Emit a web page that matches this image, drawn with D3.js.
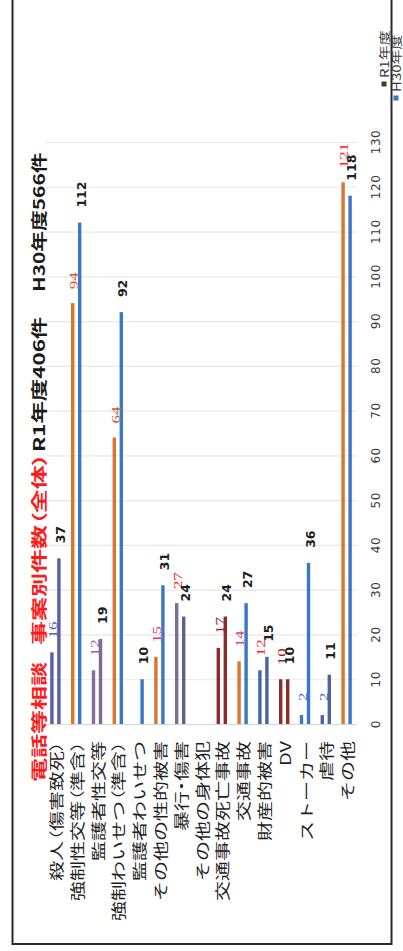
<!DOCTYPE html>
<html><head><meta charset="utf-8">
<script src="https://cdn.jsdelivr.net/npm/d3@7"></script>
<style>body{margin:0;background:#fff;} svg{display:block;}</style>
</head><body>
<svg id="c" width="403" height="951"></svg>
<script>
// ---------- data ----------
const categories = ["殺人（傷害致死）","強制性交等（準含）","監護者性交等","強制わいせつ（準含）","監護者わいせつ","その他の性的被害","暴行・傷害","その他の身体犯","交通事故死亡事故","交通事故","財産的被害","DV","ストーカー","虐待","その他"];
const seriesNames = ["R1年度","H30年度"];
const r1Values  = [16, 94, 12, 64, null, 15, 27, null, 17, 14, 12, 10, 2, 2, 121];
const h30Values = [37, 112, 19, 92, 10, 31, 24, null, 24, 27, 15, 10, 36, 11, 118];
const tickValues = [0,10,20,30,40,50,60,70,80,90,100,110,120,130];
const titleRed = ["電話等相談","事案別件数（全体）"];
const titleBlack = ["R1年度406件","H30年度566件"];

// ---------- styles ----------
const OR="#d8762f", BL="#3a78c6", SL="#5660a4", PU="#85709a", DR="#8e2b2b", SB="#4a64a0";
const r1BarColors  = [SL,OR,PU,OR,BL,OR,"#77709a",DR,DR,OR,SB,DR,BL,SB,OR];
const h30BarColors = [SL,BL,"#7a6a96",BL,BL,BL,"#5e6090",DR,DR,BL,SB,DR,BL,SB,BL];
const r1LabelColors = ["#5a62b0","#d4572c","#8c6d9c","#d4572c","#d4572c","#e23a62","#ff2222",DR,"#9a2626","#e0407a","#ff2222","#9a2626","#3a78c6","#4a64a0","#ff2222"];

const svg = d3.select("#c");
const CJK = "'Noto Sans CJK JP','Noto Sans CJK SC',sans-serif";

// frame
svg.append("rect").attr("x",12.5).attr("y",-6).attr("width",379).attr("height",950)
  .attr("fill","none").attr("stroke","#2b2b2b").attr("stroke-width",2);

// scales
const x = d3.scaleBand().domain(categories).range([45, 357]);
const y = d3.scaleLinear().domain([0,130]).range([724, 142]);
const sub = d3.scaleBand().domain(seriesNames).range([-7, 7]);
const barW = 3.4;

// gridlines
svg.append("g").selectAll("line").data(tickValues.slice(1)).join("line")
  .attr("x1",45).attr("x2",357).attr("y1",d=>y(d)+0.5).attr("y2",d=>y(d)+0.5)
  .attr("stroke","#e8e8e8").attr("stroke-width",1.2);
// baseline
svg.append("line").attr("x1",45).attr("x2",357).attr("y1",y(0)+0.5).attr("y2",y(0)+0.5)
  .attr("stroke","#d6d6d6").attr("stroke-width",1);

// tick labels (rotated)
svg.append("g").selectAll("text").data(tickValues).join("text")
  .attr("transform",d=>`translate(376,${y(d)}) rotate(-90)`)
  .attr("text-anchor","middle").attr("dominant-baseline","central")
  .attr("font-family","'DejaVu Sans',sans-serif").attr("font-size",12)
  .attr("letter-spacing",0.6).attr("fill","#3a3a3a").text(d=>d);

// bars
const rows = categories.map((c,i)=>({c,i,r1:r1Values[i],h30:h30Values[i]}));
const bars = [];
rows.forEach(r=>{
  if(r.r1!=null) bars.push({c:r.c,s:seriesNames[0],v:r.r1,col:r1BarColors[r.i],lc:r1LabelColors[r.i]});
  if(r.h30!=null) bars.push({c:r.c,s:seriesNames[1],v:r.h30,col:h30BarColors[r.i],lc:"#1e1e1e"});
});
const cx = d => x(d.c) + x.bandwidth()/2 + sub(d.s) + sub.bandwidth()/2;
svg.append("g").selectAll("rect").data(bars).join("rect")
  .attr("x",d=>cx(d)-barW/2).attr("width",barW)
  .attr("y",d=>y(d.v)).attr("height",d=>y(0)-y(d.v))
  .attr("fill",d=>d.col);

// value labels
svg.append("g").selectAll("text").data(bars.filter(d=>d.s===seriesNames[0])).join("text")
  .attr("transform",d=>`translate(${cx(d)+1},${y(d.v)-14}) scale(1,1.3) rotate(-90)`)
  .attr("dominant-baseline","central")
  .attr("font-family","'Liberation Serif','DejaVu Serif',serif").attr("font-size",13)
  .attr("fill",d=>d.lc).text(d=>d.v);
svg.append("g").selectAll("text").data(bars.filter(d=>d.s===seriesNames[1])).join("text")
  .attr("transform",d=>`translate(${cx(d)+1.5},${y(d.v)-15}) rotate(-90)`)
  .attr("dominant-baseline","central")
  .attr("font-family","'DejaVu Sans',sans-serif").attr("font-weight","bold").attr("font-size",12.5)
  .attr("fill",d=>d.lc).text(d=>d.v);

// category labels
function fillCJK(sel, txt){
  txt.split(/([（）・])/).filter(s=>s.length).forEach(part=>{
    const t = sel.append("tspan").text(part);
    if(/^[（）・]$/.test(part)) t.style("font-feature-settings","'palt'");
  });
}
const catG = svg.append("g");
categories.forEach(c=>{
  const t = catG.append("text")
    .attr("transform",`translate(${x(c)+x.bandwidth()/2},741) scale(1,1.38) rotate(-90)`)
    .attr("text-anchor","end").attr("dominant-baseline","central")
    .attr("font-family",CJK).attr("font-size",14.5).attr("fill","#1e1e1e");
  fillCJK(t,c);
});

// title
const titleStarts = [782, 645, 452, 292];
const titleStretch = [1.5, 1.5, 1.4, 1.3];
const titleTexts = titleRed.concat(titleBlack);
titleTexts.forEach((s,i)=>{
  svg.append("text")
    .attr("transform",`translate(38,${titleStarts[i]}) scale(1,${titleStretch[i]}) rotate(-90)`)
    .attr("dominant-baseline","central")
    .attr("font-family",CJK).attr("font-weight","bold").attr("font-size",16)
    .style("font-feature-settings","'palt'")
    .attr("fill", i<2 ? "#ff1a1a" : "#1a1a1a").text(s);
});

// legend
const legCols = ["#3d3d3d", BL];
const legX = [384, 396], legY = [84, 98];
seriesNames.forEach((s,i)=>{
  svg.append("rect").attr("x",legX[i]-2.5).attr("y",legY[i]-2.5).attr("width",5).attr("height",5).attr("fill",legCols[i]);
  svg.append("text")
    .attr("transform",`translate(${legX[i]},${legY[i]-6}) scale(1,1.3) rotate(-90)`)
    .attr("dominant-baseline","central")
    .attr("font-family",CJK).attr("font-size",11.5).attr("fill","#333").text(s);
});
</script>
</body></html>
